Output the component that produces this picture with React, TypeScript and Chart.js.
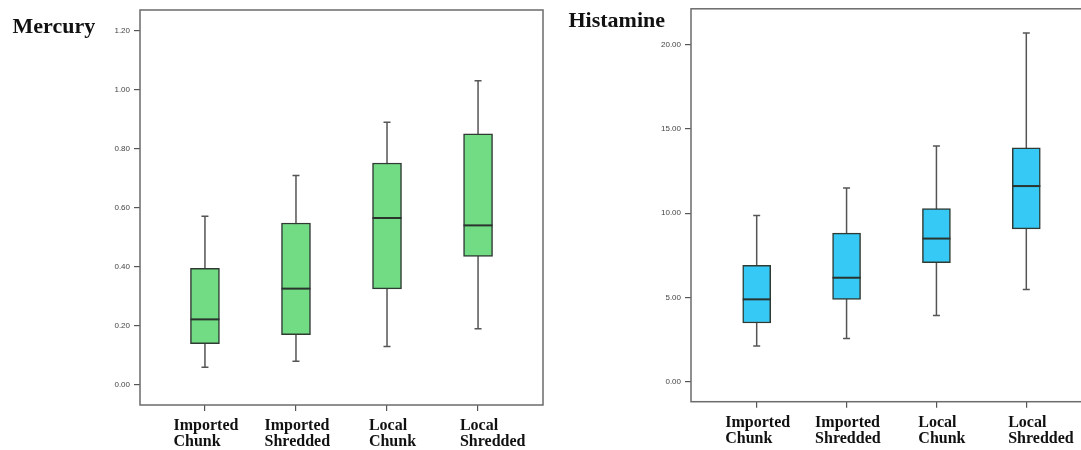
import React, { useEffect, useRef } from "react";
import { Chart, registerables } from "chart.js";

Chart.register(...registerables);

// ---- data ----
const categories: string[][] = [
  ["Imported", "Chunk"],
  ["Imported", "Shredded"],
  ["Local", "Chunk"],
  ["Local", "Shredded"],
];

const mercuryMin = [0.06, 0.08, 0.13, 0.19];
const mercuryQ1 = [0.14, 0.17, 0.325, 0.435];
const mercuryMedian = [0.222, 0.326, 0.565, 0.54];
const mercuryQ3 = [0.395, 0.548, 0.751, 0.85];
const mercuryMax = [0.571, 0.709, 0.889, 1.029];
const mercuryTicks = [0, 0.2, 0.4, 0.6, 0.8, 1.0, 1.2];

const histamineMin = [2.13, 2.58, 3.94, 5.49];
const histamineQ1 = [3.5, 4.9, 7.07, 9.07];
const histamineMedian = [4.9, 6.18, 8.5, 11.61];
const histamineQ3 = [6.91, 8.82, 10.28, 13.88];
const histamineMax = [9.86, 11.5, 13.98, 20.67];
const histamineTicks = [0, 5, 10, 15, 20];

type Stats = {
  min: number[];
  q1: number[];
  median: number[];
  q3: number[];
  max: number[];
};

type PanelCfg = {
  title: string;
  titleX: number;
  titleY: number;
  stats: Stats;
  ticks: number[];
  yMin: number;
  yMax: number;
  xMin: number;
  xMax: number;
  fill: string;
  barWidth: number;
  yAxisWidth: number;
  padTop: number;
  padRight: number;
  xAxisHeight: number;
  width: number;
  height: number;
};

function makePlugin(cfg: PanelCfg) {
  return {
    id: "boxExtras",
    beforeDatasetsDraw(chart: any) {
      const ctx = chart.ctx;
      const xs = chart.scales.x;
      const ys = chart.scales.y;
      ctx.save();
      ctx.strokeStyle = "#555555";
      ctx.lineWidth = 1.5;
      cfg.stats.min.forEach((_, i) => {
        const px = xs.getPixelForValue(i + 1);
        const yMin = ys.getPixelForValue(cfg.stats.min[i]);
        const yMax = ys.getPixelForValue(cfg.stats.max[i]);
        ctx.beginPath();
        ctx.moveTo(px, yMin);
        ctx.lineTo(px, yMax);
        ctx.moveTo(px - 3.5, yMin);
        ctx.lineTo(px + 3.5, yMin);
        ctx.moveTo(px - 3.5, yMax);
        ctx.lineTo(px + 3.5, yMax);
        ctx.stroke();
      });
      ctx.restore();
    },
    afterDatasetsDraw(chart: any) {
      const ctx = chart.ctx;
      const xs = chart.scales.x;
      const ys = chart.scales.y;
      ctx.save();
      ctx.strokeStyle = "#2a332d";
      ctx.lineWidth = 2;
      cfg.stats.median.forEach((m, i) => {
        const px = xs.getPixelForValue(i + 1);
        const py = ys.getPixelForValue(m);
        ctx.beginPath();
        ctx.moveTo(px - cfg.barWidth / 2, py);
        ctx.lineTo(px + cfg.barWidth / 2, py);
        ctx.stroke();
      });
      ctx.restore();
    },
    afterDraw(chart: any) {
      const ctx = chart.ctx;
      const a = chart.chartArea;
      const xs = chart.scales.x;
      ctx.save();
      ctx.strokeStyle = "#6b6b6b";
      ctx.lineWidth = 1.5;
      ctx.strokeRect(a.left, a.top, a.right - a.left, a.bottom - a.top);
      // category labels: first line centred on tick, second line left-aligned with it
      ctx.fillStyle = "#111111";
      ctx.font = 'bold 16px "Liberation Serif", "Times New Roman", serif';
      ctx.textAlign = "left";
      ctx.textBaseline = "alphabetic";
      categories.forEach((lines, i) => {
        const px = xs.getPixelForValue(i + 1);
        const w = ctx.measureText(lines[0]).width;
        const x0 = px - w / 2 + 1;
        lines.forEach((ln, j) => {
          ctx.fillText(ln, x0, a.bottom + 25 + j * 16);
        });
      });
      // panel title
      ctx.font = 'bold 22px "Liberation Serif", "Times New Roman", serif';
      ctx.fillText(cfg.title, cfg.titleX, cfg.titleY);
      ctx.restore();
    },
  };
}

function Panel({ cfg, left }: { cfg: PanelCfg; left: number }) {
  const ref = useRef<HTMLCanvasElement | null>(null);
  useEffect(() => {
    if (!ref.current) return;
    const boxData = cfg.stats.q1.map((q, i) => ({ x: i + 1, y: [q, cfg.stats.q3[i]] }));
    const chart = new Chart(ref.current, {
      type: "bar",
      data: {
        datasets: [
          {
            data: boxData as any,
            backgroundColor: cfg.fill,
            borderColor: "#2f3a33",
            borderWidth: 1.5,
            borderSkipped: false,
            barThickness: cfg.barWidth,
          },
        ],
      },
      options: {
        responsive: false,
        animation: false,
        devicePixelRatio: 1,
        layout: { padding: { left: 0, top: cfg.padTop, right: cfg.padRight, bottom: 0 } },
        plugins: { legend: { display: false }, tooltip: { enabled: false }, title: { display: false } },
        scales: {
          x: {
            type: "linear",
            min: cfg.xMin,
            max: cfg.xMax,
            offset: false,
            border: { display: false },
            grid: {
              display: true,
              offset: false,
              drawOnChartArea: false,
              drawTicks: true,
              tickLength: 6,
              color: "#555555",
              lineWidth: 1.2,
            },
            ticks: { display: false },
            afterBuildTicks: (scale: any) => {
              scale.ticks = categories.map((_, i) => ({ value: i + 1 }));
            },
            afterFit: (scale: any) => {
              scale.height = cfg.xAxisHeight;
            },
          },
          y: {
            type: "linear",
            min: cfg.yMin,
            max: cfg.yMax,
            border: { display: false },
            grid: {
              display: true,
              drawOnChartArea: false,
              drawTicks: true,
              tickLength: 6,
              color: "#555555",
              lineWidth: 1.2,
            },
            ticks: {
              padding: 4,
              color: "#444444",
              font: { size: 8, family: '"Liberation Sans", Arial, sans-serif' },
              callback: (v: any) => Number(v).toFixed(2),
            },
            afterBuildTicks: (scale: any) => {
              scale.ticks = cfg.ticks.map((v) => ({ value: v }));
            },
            afterFit: (scale: any) => {
              scale.width = cfg.yAxisWidth;
            },
          },
        },
      },
      plugins: [makePlugin(cfg)],
    });
    return () => chart.destroy();
  }, [cfg]);
  return (
    <canvas
      ref={ref}
      width={cfg.width}
      height={cfg.height}
      style={{ position: "absolute", left, top: 0, width: cfg.width, height: cfg.height }}
    />
  );
}

const mercuryCfg: PanelCfg = {
  title: "Mercury",
  titleX: 12.5,
  titleY: 32.5,
  stats: { min: mercuryMin, q1: mercuryQ1, median: mercuryMedian, q3: mercuryQ3, max: mercuryMax },
  ticks: mercuryTicks,
  yMin: -0.0677,
  yMax: 1.2687,
  xMin: 0.2865,
  xMax: 4.7135,
  fill: "#72dc85",
  barWidth: 29,
  yAxisWidth: 140,
  padTop: 10,
  padRight: 2,
  xAxisHeight: 45,
  width: 545,
  height: 450,
};

const histamineCfg: PanelCfg = {
  title: "Histamine",
  titleX: 23.5,
  titleY: 26.7,
  stats: { min: histamineMin, q1: histamineQ1, median: histamineMedian, q3: histamineQ3, max: histamineMax },
  ticks: histamineTicks,
  yMin: -1.163,
  yMax: 22.11,
  xMin: 0.269,
  xMax: 4.731,
  fill: "#36c9f5",
  barWidth: 28,
  yAxisWidth: 146,
  padTop: 7.3,
  padRight: 13,
  xAxisHeight: 48.3,
  width: 560,
  height: 450,
};

export default function App() {
  return (
    <div
      style={{
        position: "absolute",
        left: 0,
        top: 0,
        width: 1081,
        height: 450,
        overflow: "hidden",
        background: "#ffffff",
      }}
    >
      <Panel cfg={mercuryCfg} left={0} />
      <Panel cfg={histamineCfg} left={545} />
    </div>
  );
}
